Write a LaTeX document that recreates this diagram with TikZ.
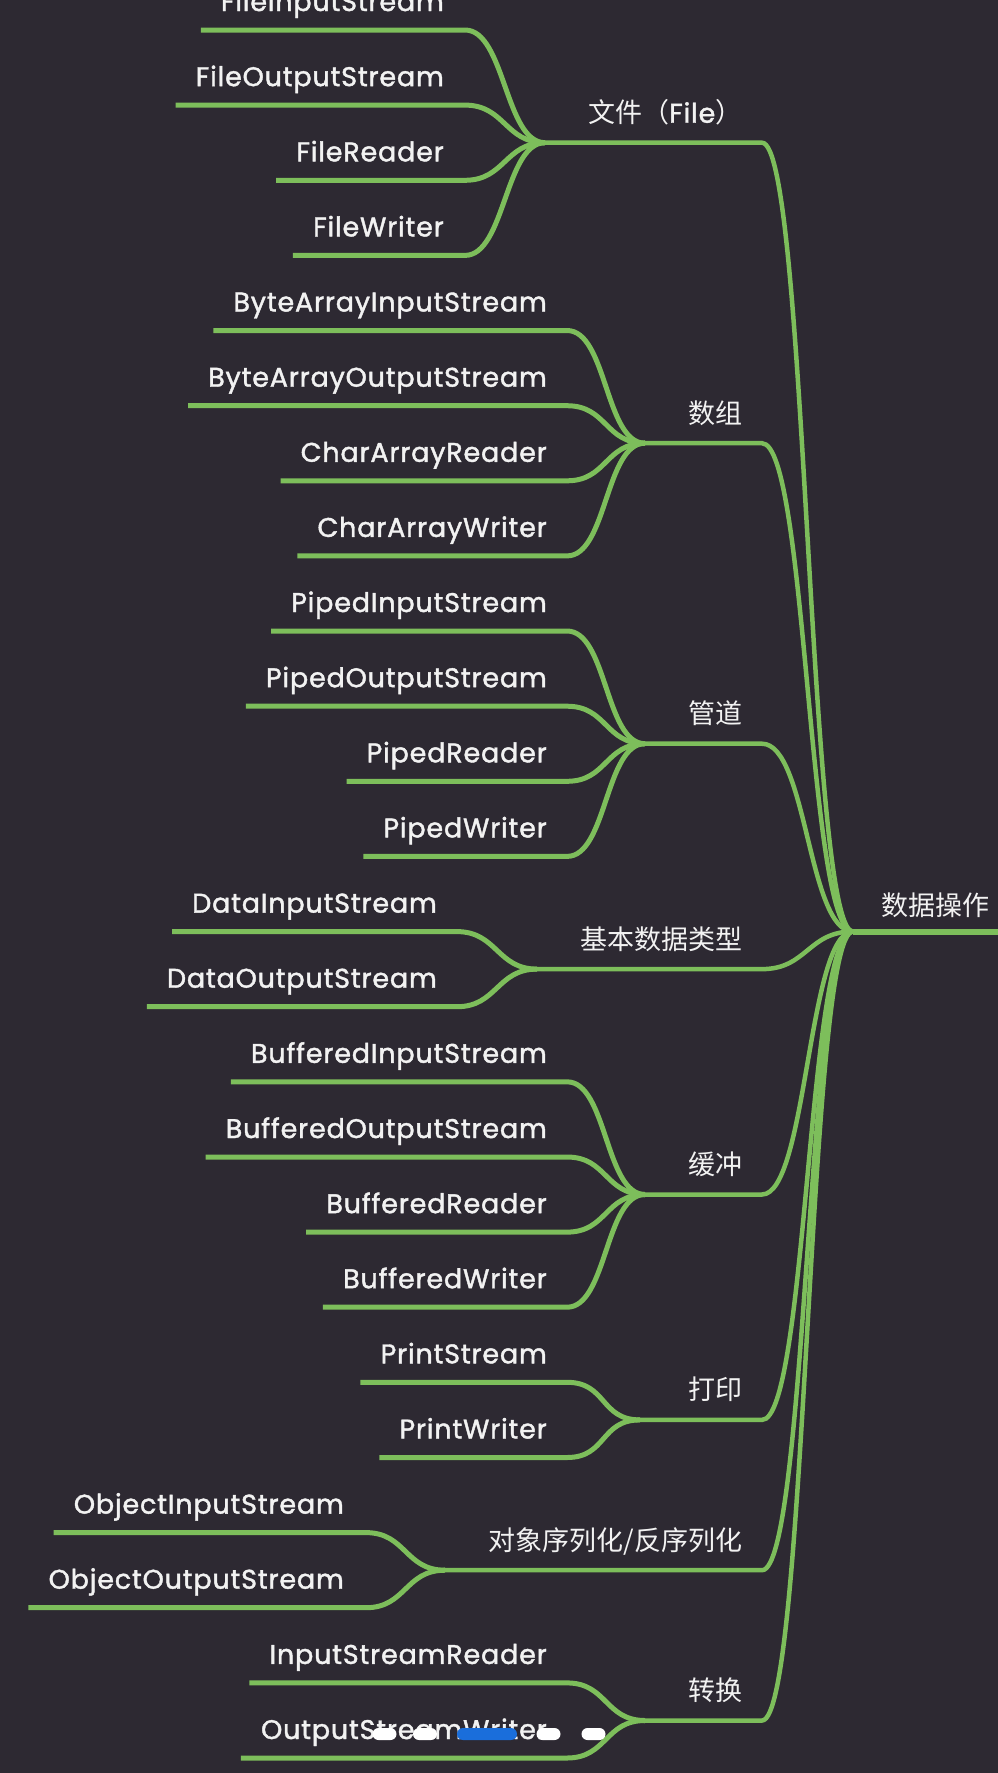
\documentclass[tikz,border=0pt]{standalone}
\usepackage{fontspec}
\setmainfont{Poppins}
\newfontfamily\lat{Poppins}[FakeBold=1.5, LetterSpace=3]
\newfontfamily\cjk{Noto Sans CJK SC}
\definecolor{bg}{HTML}{2D2932}
\definecolor{grn}{HTML}{7DBE5B}
\definecolor{txt}{HTML}{F2F2F2}
\definecolor{bluebar}{HTML}{1A6EDB}
\newcommand\mkleaf[6]{%
  \node[leaf] (#1) at (#3,#4-19) {#2};
  \coordinate (#1s) at ([xshift=-20pt]#1.west |- 0,#4);
  \coordinate (#1e) at (#5,#4);
  \draw[link] (#1s) -- (#1e) .. controls +(40,0) and +(-40,0) .. (#6);
}
\newcommand\mkgroup[4]{%
  \coordinate (#1j) at (#3,#4);
  \coordinate (#1e) at (762,#4);
  \node[topic] (#1) at (742.5,#4-20) {#2};
  \draw[trunk] (#1j) -- (#1e) .. controls +(45,0) and +(-45,0) .. (rootj);
}
\begin{document}
\begin{tikzpicture}[x=1pt,y=-1pt,
  link/.style={draw=grn, line width=5pt},
  trunk/.style={draw=grn, line width=4.5pt},
  rootline/.style={draw=grn, line width=6pt},
  leaf/.style={anchor=base east, inner sep=0pt, text=txt, font=\lat\fontsize{27}{30}\selectfont},
  topic/.style={anchor=base east, inner sep=0pt, text=txt, font=\cjk\fontsize{27}{32}\selectfont},
  pill/.style={fill=white, rounded corners=6pt, minimum width=24pt, minimum height=12pt, inner sep=0pt},
]
\fill[bg] (0,0) rectangle (998,1773);
\useasboundingbox (0,0) rectangle (998,1773);
% root
\coordinate (rootj) at (853,931.5);
\coordinate (rootr) at (998,931.5);
\node[topic, anchor=base west] (root) at (881,915) {数据操作};
\draw[rootline] (rootj) -- (rootr);
% File
\mkgroup{gfile}{文件（{\lat File}）}{545}{142.7}
\mkleaf{l0}{FileInputStream}{444}{30.0}{465}{gfilej}
\mkleaf{l1}{FileOutputStream}{444}{105.1}{465}{gfilej}
\mkleaf{l2}{FileReader}{444}{180.3}{465}{gfilej}
\mkleaf{l3}{FileWriter}{444}{255.4}{465}{gfilej}
% array
\mkgroup{garr}{数组}{645}{443.2}
\mkleaf{l4}{ByteArrayInputStream}{547}{330.5}{567}{garrj}
\mkleaf{l5}{ByteArrayOutputStream}{547}{405.7}{567}{garrj}
\mkleaf{l6}{CharArrayReader}{547}{480.8}{567}{garrj}
\mkleaf{l7}{CharArrayWriter}{547}{555.9}{567}{garrj}
% pipe
\mkgroup{gpipe}{管道}{645}{743.7}
\mkleaf{l8}{PipedInputStream}{547}{631.0}{567}{gpipej}
\mkleaf{l9}{PipedOutputStream}{547}{706.2}{567}{gpipej}
\mkleaf{l10}{PipedReader}{547}{781.3}{567}{gpipej}
\mkleaf{l11}{PipedWriter}{547}{856.4}{567}{gpipej}
% data
\mkgroup{gdata}{基本数据类型}{537}{969.1}
\mkleaf{l12}{DataInputStream}{437}{931.6}{457}{gdataj}
\mkleaf{l13}{DataOutputStream}{437}{1006.7}{457}{gdataj}
% buffered
\mkgroup{gbuf}{缓冲}{645}{1194.5}
\mkleaf{l14}{BufferedInputStream}{547}{1081.8}{567}{gbufj}
\mkleaf{l15}{BufferedOutputStream}{547}{1157.0}{567}{gbufj}
\mkleaf{l16}{BufferedReader}{547}{1232.1}{567}{gbufj}
\mkleaf{l17}{BufferedWriter}{547}{1307.2}{567}{gbufj}
% print
\mkgroup{gprint}{打印}{640}{1419.9}
\mkleaf{l18}{PrintStream}{547}{1382.3}{567}{gprintj}
\mkleaf{l19}{PrintWriter}{547}{1457.5}{567}{gprintj}
% object
\mkgroup{gobj}{对象序列化/反序列化}{445}{1570.2}
\mkleaf{l20}{ObjectInputStream}{344}{1532.6}{366}{gobjj}
\mkleaf{l21}{ObjectOutputStream}{344}{1607.7}{366}{gobjj}
% convert
\mkgroup{gconv}{转换}{645}{1720.5}
\mkleaf{l22}{InputStreamReader}{547}{1682.9}{567}{gconvj}
\mkleaf{l23}{OutputStreamWriter}{547}{1758.0}{567}{gconvj}
% page indicator
\node[pill] (p1) at (384.5,1734) {};
\node[pill] (p2) at (425,1734) {};
\node[pill, fill=bluebar, minimum width=60pt] (p3) at (487,1734) {};
\node[pill] (p4) at (548.5,1734) {};
\node[pill] (p5) at (593.5,1734) {};
\end{tikzpicture}
\end{document}
